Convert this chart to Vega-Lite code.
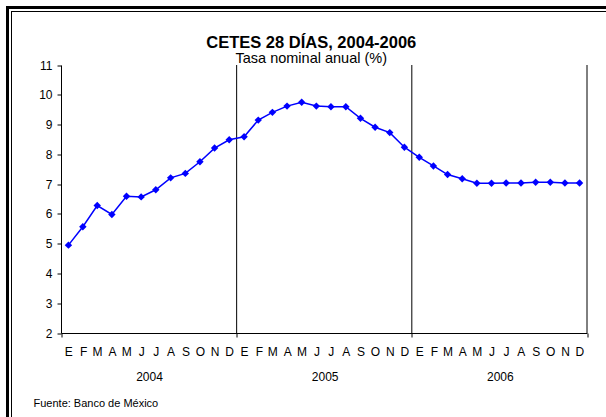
{
  "$schema": "https://vega.github.io/schema/vega-lite/v6.json",
  "width": 598.5,
  "height": 409.5,
  "autosize": "none",
  "padding": {"left": 7.5, "top": 7.5, "right": 0, "bottom": 0},
  "background": "white",
  "title": {
    "text": "CETES 28 DÍAS, 2004-2006",
    "subtitle": "Tasa nominal anual (%)",
    "font": "Liberation Sans",
    "fontSize": 16.5,
    "fontWeight": "bold",
    "color": "black",
    "subtitleFont": "Liberation Sans",
    "subtitleFontSize": 14.5,
    "subtitleColor": "black",
    "subtitlePadding": 1,
    "anchor": "middle",
    "frame": "group",
    "offset": -58.5,
    "dx": 4.5
  },
  "config": {
    "font": "Liberation Sans",
    "view": {"stroke": null},
    "axis": {"domainColor": "black", "tickColor": "black", "labelColor": "black", "titleColor": "black", "labelFont": "Liberation Sans", "titleFont": "Liberation Sans", "grid": false}
  },
  "data": {
    "values": [
      {"fecha": "2004-01", "tasa": 4.95}, {"fecha": "2004-02", "tasa": 5.57}, {"fecha": "2004-03", "tasa": 6.28},
      {"fecha": "2004-04", "tasa": 5.98}, {"fecha": "2004-05", "tasa": 6.59}, {"fecha": "2004-06", "tasa": 6.57},
      {"fecha": "2004-07", "tasa": 6.81}, {"fecha": "2004-08", "tasa": 7.21}, {"fecha": "2004-09", "tasa": 7.36},
      {"fecha": "2004-10", "tasa": 7.75}, {"fecha": "2004-11", "tasa": 8.21}, {"fecha": "2004-12", "tasa": 8.49},
      {"fecha": "2005-01", "tasa": 8.59}, {"fecha": "2005-02", "tasa": 9.15}, {"fecha": "2005-03", "tasa": 9.41},
      {"fecha": "2005-04", "tasa": 9.62}, {"fecha": "2005-05", "tasa": 9.75}, {"fecha": "2005-06", "tasa": 9.62},
      {"fecha": "2005-07", "tasa": 9.60}, {"fecha": "2005-08", "tasa": 9.60}, {"fecha": "2005-09", "tasa": 9.21},
      {"fecha": "2005-10", "tasa": 8.91}, {"fecha": "2005-11", "tasa": 8.73}, {"fecha": "2005-12", "tasa": 8.24},
      {"fecha": "2006-01", "tasa": 7.90}, {"fecha": "2006-02", "tasa": 7.61}, {"fecha": "2006-03", "tasa": 7.32},
      {"fecha": "2006-04", "tasa": 7.18}, {"fecha": "2006-05", "tasa": 7.03}, {"fecha": "2006-06", "tasa": 7.03},
      {"fecha": "2006-07", "tasa": 7.04}, {"fecha": "2006-08", "tasa": 7.04}, {"fecha": "2006-09", "tasa": 7.06},
      {"fecha": "2006-10", "tasa": 7.06}, {"fecha": "2006-11", "tasa": 7.04}, {"fecha": "2006-12", "tasa": 7.04}
    ]
  },
  "layer": [
    {
      "mark": {"type": "point", "opacity": 0},
      "encoding": {
        "x": {
          "field": "fecha", "type": "temporal", "timeUnit": "utcyearmonth",
          "scale": {"type": "utc", "domain": [{"year": 2004, "month": 1, "date": 1, "utc": true}, {"year": 2007, "month": 1, "date": 1, "utc": true}], "range": [-2, 700]},
          "axis": {"orient": "top", "offset": 0.5, "domain": true, "domainWidth": 3, "domainColor": "black", "ticks": false, "labels": false, "grid": false, "title": null}
        },
        "y": {
          "field": "tasa", "type": "quantitative",
          "scale": {"domain": [2, 11], "range": [700, -2], "nice": false, "zero": false},
          "axis": {"orient": "left", "offset": 0.5, "domain": true, "domainWidth": 3, "domainColor": "black", "ticks": false, "labels": false, "grid": false, "title": null}
        }
      }
    },
    {
      "mark": {"type": "point", "opacity": 0},
      "encoding": {
        "x": {
          "field": "fecha", "type": "temporal", "timeUnit": "utcyearmonth",
          "scale": {"type": "utc", "domain": [{"year": 2004, "month": 1, "date": 1, "utc": true}, {"year": 2007, "month": 1, "date": 1, "utc": true}], "range": [3, 700]},
          "axis": {"orient": "top", "offset": -3.5, "domain": true, "domainWidth": 1, "domainColor": "black", "ticks": false, "labels": false, "grid": false, "title": null}
        },
        "y": {
          "field": "tasa", "type": "quantitative",
          "scale": {"domain": [2, 11], "range": [700, 3], "nice": false, "zero": false},
          "axis": {"orient": "left", "offset": -3.5, "domain": true, "domainWidth": 1, "domainColor": "black", "ticks": false, "labels": false, "grid": false, "title": null}
        }
      }
    },
    {
      "data": {"values": [{"anio": "2005"}, {"anio": "2006"}, {"anio": "2007"}]},
      "mark": {"type": "rule", "color": "black", "strokeWidth": 1},
      "encoding": {
        "x": {
          "field": "anio", "type": "temporal", "timeUnit": "utcyear",
          "scale": {"type": "utc", "domain": [{"year": 2004, "month": 1, "date": 1, "utc": true}, {"year": 2007, "month": 1, "date": 1, "utc": true}], "range": [53.5, 579.5]},
          "axis": {
            "orient": "bottom", "offset": -84,
            "values": [{"year": 2004, "month": 1, "date": 1, "utc": true}, {"year": 2005, "month": 1, "date": 1, "utc": true}, {"year": 2006, "month": 1, "date": 1, "utc": true}, {"year": 2007, "month": 1, "date": 1, "utc": true}],
            "domain": false, "ticks": true, "tickSize": 4, "tickWidth": 1, "grid": false,
            "labelExpr": "utcyear(datum.value) > 2006 ? '' : '' + utcyear(datum.value)",
            "labelOffset": 88, "labelPadding": 34, "labelFontSize": 12,
            "labelFlush": false, "labelOverlap": false, "labelBound": false,
            "title": "Fuente: Banco de México", "titleX": 25.5, "titleY": 70,
            "titleAlign": "left", "titleBaseline": "middle", "titleFontSize": 11, "titleFontWeight": "normal"
          }
        },
        "y": {
          "datum": 2, "type": "quantitative",
          "scale": {"domain": [2, 11], "range": [325.5, 57.5], "nice": false, "zero": false},
          "axis": null
        },
        "y2": {"datum": 11}
      }
    },
    {
      "mark": {"type": "line", "color": "#0000FF", "strokeWidth": 1.5, "point": {"shape": "diamond", "size": 55, "filled": true, "color": "#0000FF"}},
      "encoding": {
        "x": {
          "field": "fecha", "type": "temporal", "timeUnit": "utcyearmonth", "bandPosition": 0.5,
          "scale": {"type": "utc", "domain": [{"year": 2004, "month": 1, "date": 1, "utc": true}, {"year": 2007, "month": 1, "date": 1, "utc": true}], "range": [53.5, 579.5]},
          "axis": {
            "orient": "bottom", "offset": -84,
            "tickCount": {"interval": "month", "step": 1},
            "ticks": false, "tickSize": 0, "domain": true,
            "labelExpr": "utcyear(datum.value) > 2006 ? '' : ['E','F','M','A','M','J','J','A','S','O','N','D'][utcmonth(datum.value)]",
            "labelOffset": 7.3, "labelPadding": 13, "labelFontSize": 12,
            "labelFlush": false, "labelOverlap": false, "labelBound": false,
            "title": null
          }
        },
        "y": {
          "field": "tasa", "type": "quantitative",
          "scale": {"domain": [2, 11], "range": [325.5, 57.5], "nice": false, "zero": false},
          "axis": {"orient": "left", "values": [2, 3, 4, 5, 6, 7, 8, 9, 10, 11], "offset": -53.5, "tickSize": 4, "labelPadding": 5, "labelFontSize": 12, "title": null}
        }
      }
    }
  ],
  "resolve": {
    "scale": {"x": "independent", "y": "independent"},
    "axis": {"x": "independent", "y": "independent"}
  }
}
